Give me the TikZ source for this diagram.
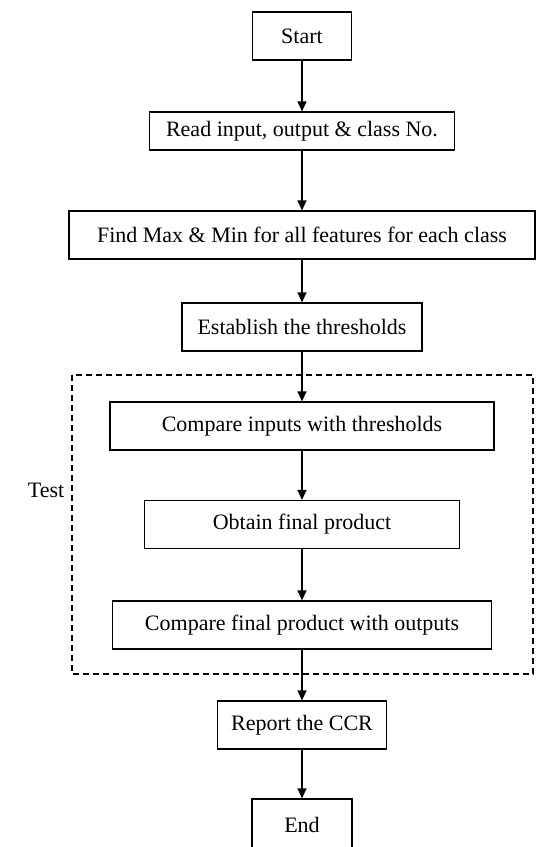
\documentclass[tikz,border=0pt]{standalone}
\usepackage{fontspec}
\setmainfont{Liberation Serif}
\usetikzlibrary{arrows.meta}

\tikzset{
  box/.style={draw, line width=0.6pt, inner sep=0pt, minimum height=24pt,
              font=\fontsize{11}{13}\selectfont},
  flow/.style={-{Triangle[length=5pt,width=4.5pt]}, line width=0.6pt}
}

\begin{document}
\begin{tikzpicture}[x=0.5pt,y=-0.5pt]
    \useasboundingbox (0,0) rectangle (536,847);
    \draw [dash pattern=on 3pt off 2pt, line width=0.6pt] (72,375) rectangle (533,674);
    \node [font=\fontsize{11}{13}\selectfont] (test) at (46,490) {Test};

    \node [box, minimum width=49.5pt]                     (start)  at (302,36)  {Start};
    \node [box, minimum width=152.5pt, minimum height=19pt] (read) at (302,131) {Read input, output \& class No.};
    \node [box, minimum width=233pt]                      (find)   at (302,235) {Find Max \& Min for all features for each class};
    \node [box, minimum width=120pt]                      (thresh) at (302,327) {Establish the thresholds};
    \node [box, minimum width=192pt]                      (cmpin)  at (302,426) {Compare inputs with thresholds};
    \node [box, minimum width=157.5pt]                    (obtain) at (302,524.5) {Obtain final product};
    \node [box, minimum width=189.5pt]                    (cmpout) at (302,625) {Compare final product with outputs};
    \node [box, minimum width=84.5pt]                     (report) at (302,725) {Report the CCR};
    \node [box, minimum width=50pt, minimum height=26pt]  (stop)   at (302,825) {End};

    \draw [flow] (start) -- (read);
    \draw [flow] (read) -- (find);
    \draw [flow] (find) -- (thresh);
    \draw [flow] (thresh) -- (cmpin);
    \draw [flow] (cmpin) -- (obtain);
    \draw [flow] (obtain) -- (cmpout);
    \draw [flow] (cmpout) -- (report);
    \draw [flow] (report) -- (stop);
\end{tikzpicture}
\end{document}
